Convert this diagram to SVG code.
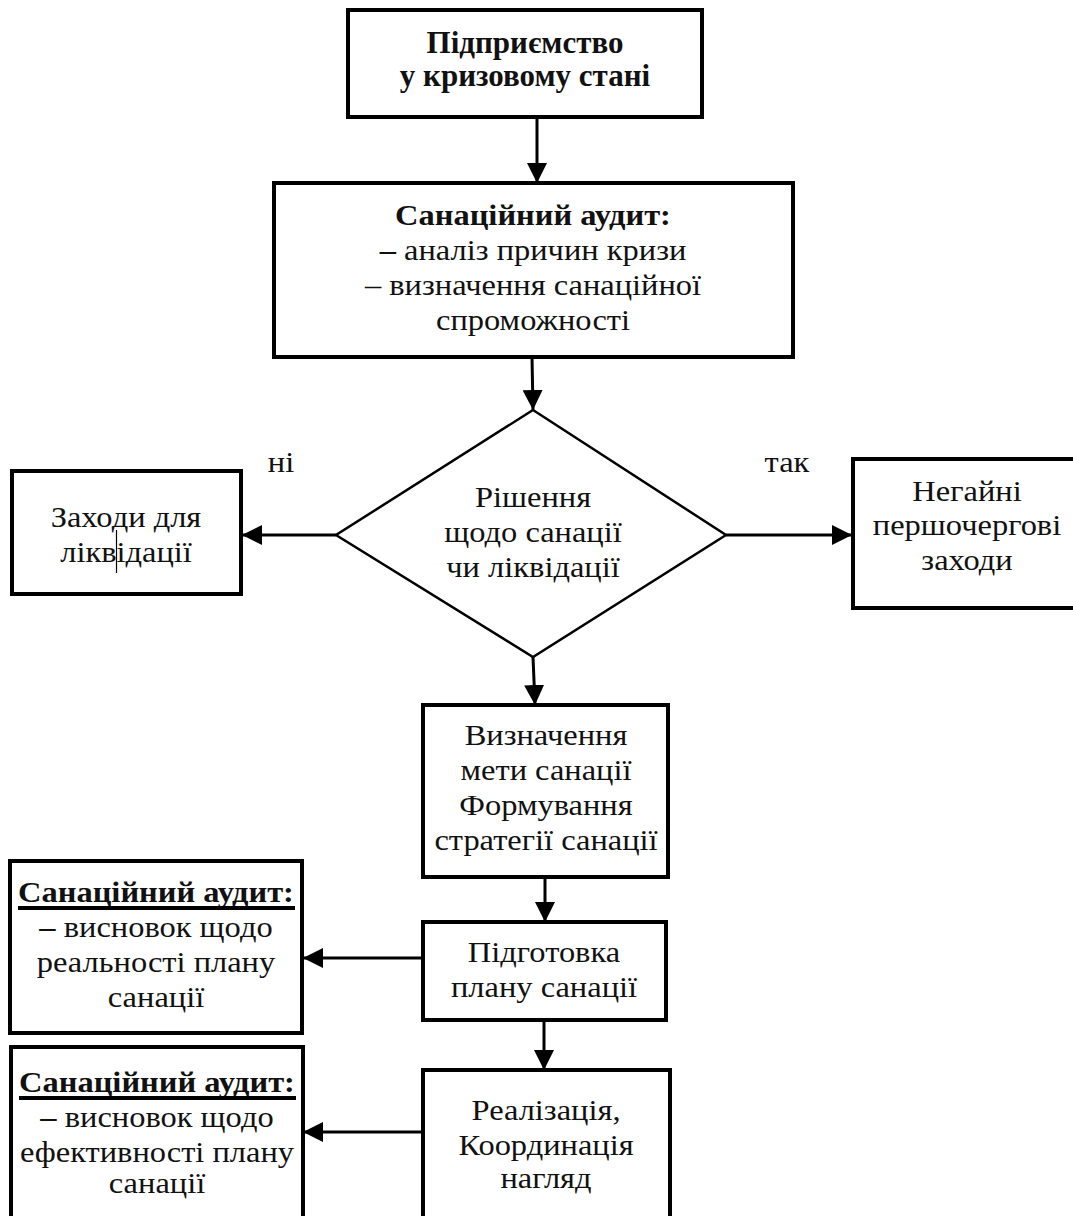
<svg xmlns="http://www.w3.org/2000/svg" width="1073" height="1216" viewBox="0 0 1073 1216">
<style>
.box{fill:#fff;stroke:#000;stroke-width:4}
.dia{fill:#fff;stroke:#000;stroke-width:2.5}
text{font-family:'Liberation Serif','Times New Roman',serif;font-size:29px;fill:#111;text-anchor:middle}
.b{font-weight:bold}
.h{font-size:31px}
.c{stroke:#000;stroke-width:3;fill:none;marker-end:url(#ah)}
.ul{stroke:#000;stroke-width:4}
</style>
<defs>
<marker id="ah" markerUnits="userSpaceOnUse" markerWidth="20" markerHeight="20" refX="20" refY="10" orient="auto">
<path d="M0,0 L20,10 L0,20 z" fill="#000"/>
</marker>
</defs>
<rect width="1073" height="1216" fill="#fff"/>
<g id="connectors">
<line class="c" x1="537" y1="117" x2="537" y2="183"/>
<line class="c" x1="532" y1="357" x2="533" y2="410"/>
<line class="c" x1="336" y1="535" x2="242" y2="535"/>
<line class="c" x1="726" y1="535" x2="852" y2="535"/>
<line class="c" x1="533" y1="657" x2="535" y2="705"/>
<line class="c" x1="545" y1="877" x2="545" y2="922"/>
<line class="c" x1="544" y1="1020" x2="544" y2="1070"/>
<line class="c" x1="423" y1="958" x2="303" y2="958"/>
<line class="c" x1="423" y1="1132" x2="303" y2="1132"/>
</g>
<g id="n1">
<rect class="box" x="348" y="10" width="354" height="107"/>
<text class="b h" x="525" y="53">Підприємство</text>
<text class="b h" x="525" y="86">у кризовому стані</text>
</g>
<g id="n2">
<rect class="box" x="274" y="183" width="519" height="174"/>
<text class="b" transform="translate(533,0) scale(1.12,1)" x="0" y="225">Санаційний аудит:</text>
<text transform="translate(533,0) scale(1.12,1)" x="0" y="260"><tspan font-weight="bold">–</tspan> аналіз причин кризи</text>
<text transform="translate(533,0) scale(1.12,1)" x="0" y="295">– визначення санаційної</text>
<text transform="translate(533,0) scale(1.12,1)" x="0" y="330">спроможності</text>
</g>
<g id="n3">
<polygon class="dia" points="533,410 726,535 533,657 336,535"/>
<text transform="translate(533,0) scale(1.12,1)" x="0" y="507">Рішення</text>
<text transform="translate(533,0) scale(1.12,1)" x="0" y="542">щодо санації</text>
<text transform="translate(533,0) scale(1.12,1)" x="0" y="577">чи ліквідації</text>
</g>
<g id="lbl-no"><text transform="translate(281,0) scale(1.12,1)" x="0" y="472">ні</text></g>
<g id="lbl-yes"><text transform="translate(787,0) scale(1.12,1)" x="0" y="472">так</text></g>
<g id="n4">
<rect class="box" x="12" y="471" width="229" height="123"/>
<text transform="translate(126,0) scale(1.12,1)" x="0" y="527">Заходи для</text>
<text transform="translate(126,0) scale(1.12,1)" x="0" y="562">ліквідації</text>
<line x1="116.5" y1="530" x2="116.5" y2="573" stroke="#000" stroke-width="1.2"/>
</g>
<g id="n5">
<rect class="box" x="853" y="459" width="232" height="149"/>
<text transform="translate(967,0) scale(1.12,1)" x="0" y="501">Негайні</text>
<text transform="translate(967,0) scale(1.12,1)" x="0" y="535">першочергові</text>
<text transform="translate(967,0) scale(1.12,1)" x="0" y="570">заходи</text>
</g>
<g id="n6">
<rect class="box" x="423" y="705" width="245" height="172"/>
<text transform="translate(546,0) scale(1.12,1)" x="0" y="745">Визначення</text>
<text transform="translate(546,0) scale(1.12,1)" x="0" y="780">мети санації</text>
<text transform="translate(546,0) scale(1.12,1)" x="0" y="815">Формування</text>
<text transform="translate(546,0) scale(1.12,1)" x="0" y="850">стратегії санації</text>
</g>
<g id="n7">
<rect class="box" x="423" y="922" width="243" height="98"/>
<text transform="translate(544,0) scale(1.12,1)" x="0" y="962">Підготовка</text>
<text transform="translate(544,0) scale(1.12,1)" x="0" y="997">плану санації</text>
</g>
<g id="n8">
<rect class="box" x="423" y="1070" width="247" height="170"/>
<text transform="translate(546,0) scale(1.12,1)" x="0" y="1120">Реалізація,</text>
<text transform="translate(546,0) scale(1.12,1)" x="0" y="1155">Координація</text>
<text transform="translate(546,0) scale(1.12,1)" x="0" y="1188">нагляд</text>
</g>
<g id="n9">
<rect class="box" x="10" y="861" width="292" height="172"/>
<text class="b" transform="translate(156,0) scale(1.12,1)" x="0" y="902">Санаційний аудит:</text>
<line class="ul" x1="18" y1="908" x2="295" y2="908"/>
<text transform="translate(156,0) scale(1.12,1)" x="0" y="937"><tspan font-weight="bold">–</tspan> висновок щодо</text>
<text transform="translate(156,0) scale(1.12,1)" x="0" y="972">реальності плану</text>
<text transform="translate(156,0) scale(1.12,1)" x="0" y="1007">санації</text>
</g>
<g id="n10">
<rect class="box" x="11" y="1047" width="292" height="190"/>
<text class="b" transform="translate(157,0) scale(1.12,1)" x="0" y="1092">Санаційний аудит:</text>
<line class="ul" x1="19" y1="1098" x2="296" y2="1098"/>
<text transform="translate(157,0) scale(1.12,1)" x="0" y="1127"><tspan font-weight="bold">–</tspan> висновок щодо</text>
<text transform="translate(157,0) scale(1.12,1)" x="0" y="1162">ефективності плану</text>
<text transform="translate(157,0) scale(1.12,1)" x="0" y="1193">санації</text>
</g>
</svg>
